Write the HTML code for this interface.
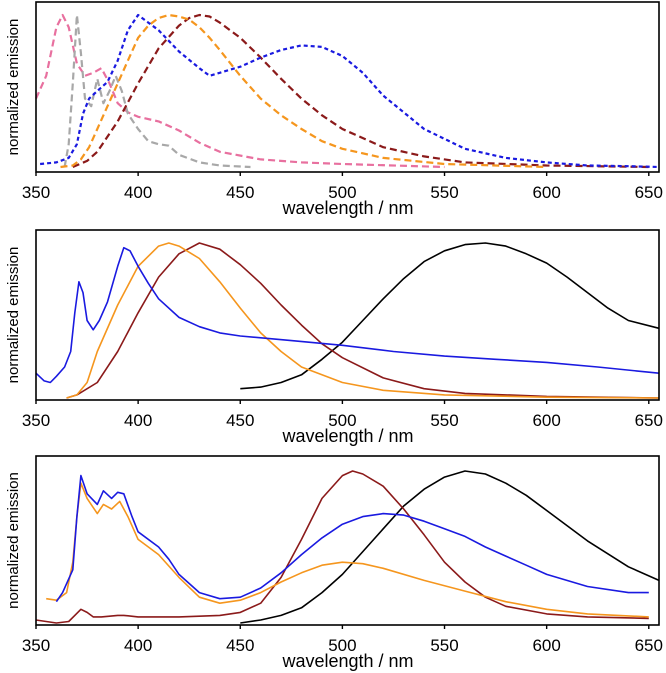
<!DOCTYPE html>
<html><head><meta charset="utf-8"><style>
html,body{margin:0;padding:0;background:#fff;}
svg{display:block;font-family:"Liberation Sans",Arial,sans-serif;}
</style></head><body>
<svg id="chart" width="666" height="673" viewBox="0 0 666 673" xmlns="http://www.w3.org/2000/svg"></svg>
<script>
const xTicks = [350,400,450,500,550,600,650];
// Panel 1 (dashed)
const p1PinkX=[350,355,360,363,366,370,374,378,382,386,390,395,400,410,420,430,440,460,480,500,550];
const p1PinkY=[0.45,0.6,0.92,1.0,0.92,0.68,0.6,0.62,0.65,0.55,0.42,0.36,0.33,0.3,0.24,0.16,0.1,0.05,0.03,0.02,0];
const p1GrayX=[364,366,368,370,372,374,377,380,383,386,389,392,395,400,405,410,415,420,430,440,455];
const p1GrayY=[0,0.15,0.55,1.0,0.75,0.45,0.4,0.58,0.42,0.5,0.6,0.5,0.35,0.25,0.17,0.15,0.14,0.08,0.03,0.01,0];
const p1BlueX=[352,360,366,370,373,376,380,385,390,395,400,405,410,420,430,435,440,450,460,470,480,490,500,510,520,530,540,560,580,600,620,640,655];
const p1BlueY=[0.02,0.03,0.06,0.15,0.35,0.45,0.5,0.56,0.7,0.9,1.0,0.95,0.9,0.76,0.65,0.6,0.62,0.66,0.72,0.77,0.8,0.79,0.73,0.62,0.47,0.36,0.25,0.12,0.06,0.03,0.01,0.005,0];
const p1OrangeX=[362,368,372,376,380,385,390,395,400,405,410,415,420,425,430,435,440,450,460,470,480,490,500,520,550,600];
const p1OrangeY=[0,0.01,0.05,0.13,0.25,0.4,0.55,0.7,0.85,0.93,0.98,1.0,0.99,0.97,0.92,0.85,0.77,0.6,0.45,0.34,0.25,0.17,0.12,0.06,0.02,0];
const p1RedX=[368,375,380,390,400,410,420,425,430,435,440,450,460,470,480,490,500,520,540,560,600,650];
const p1RedY=[0,0.04,0.1,0.3,0.55,0.78,0.93,0.98,1.0,0.99,0.95,0.85,0.72,0.58,0.45,0.34,0.25,0.13,0.07,0.03,0.01,0];
// Panel 2 (solid)
const p2BlueX=[350,354,357,360,364,367,369,371,373,375,378,381,385,390,393,396,400,405,410,420,430,440,450,475,500,525,550,575,600,625,655];
const p2BlueY=[0.16,0.11,0.1,0.14,0.2,0.3,0.55,0.75,0.68,0.5,0.44,0.5,0.62,0.85,0.97,0.95,0.85,0.74,0.64,0.52,0.46,0.42,0.4,0.37,0.34,0.3,0.27,0.25,0.23,0.2,0.16];
const p2OrangeX=[365,370,375,380,390,400,410,415,420,430,440,450,460,470,480,500,520,550,600,655];
const p2OrangeY=[0,0.02,0.1,0.3,0.6,0.85,0.98,1.0,0.98,0.9,0.75,0.58,0.42,0.3,0.2,0.1,0.05,0.02,0.005,0];
const p2RedX=[365,370,380,390,400,410,420,430,440,450,460,470,480,490,500,520,540,560,600,655];
const p2RedY=[0,0.02,0.1,0.3,0.55,0.78,0.93,1.0,0.96,0.86,0.74,0.6,0.47,0.35,0.26,0.13,0.06,0.03,0.01,0];
const p2BlackX=[450,460,470,480,490,500,510,520,530,540,550,560,570,580,590,600,610,620,630,640,655];
const p2BlackY=[0.06,0.07,0.1,0.15,0.25,0.36,0.5,0.64,0.77,0.88,0.95,0.99,1.0,0.98,0.93,0.87,0.78,0.68,0.58,0.5,0.45];
// Panel 3 (solid)
const p3BlueX=[360,363,368,370,372,375,380,383,387,390,393,397,400,410,415,420,430,440,450,460,470,480,490,500,510,520,530,540,550,560,570,580,590,600,620,640,650];
const p3BlueY=[0.14,0.2,0.35,0.7,0.97,0.85,0.78,0.87,0.82,0.86,0.85,0.7,0.6,0.5,0.42,0.32,0.2,0.16,0.17,0.23,0.33,0.45,0.56,0.65,0.7,0.72,0.71,0.67,0.62,0.57,0.5,0.44,0.38,0.32,0.24,0.2,0.2];
const p3OrangeX=[355,360,365,368,370,372,375,380,383,387,391,395,400,410,420,430,440,450,460,470,480,490,500,510,520,540,560,580,600,620,650];
const p3OrangeY=[0.16,0.15,0.2,0.4,0.7,0.92,0.82,0.72,0.78,0.75,0.8,0.7,0.55,0.45,0.3,0.17,0.13,0.15,0.2,0.27,0.33,0.38,0.4,0.39,0.36,0.28,0.21,0.14,0.09,0.06,0.04];
const p3RedX=[350,355,360,366,369,372,375,378,382,390,393,400,420,440,450,460,470,480,490,500,505,510,520,530,540,550,560,570,580,600,620,650];
const p3RedY=[0.02,0.01,0.0,0.01,0.05,0.09,0.07,0.04,0.04,0.05,0.05,0.04,0.04,0.05,0.07,0.13,0.3,0.55,0.82,0.97,1.0,0.98,0.9,0.75,0.58,0.4,0.27,0.17,0.11,0.06,0.04,0.03];
const p3BlackX=[450,460,470,480,490,500,510,520,530,540,550,560,570,580,590,600,620,640,655];
const p3BlackY=[0,0.02,0.05,0.1,0.2,0.32,0.47,0.62,0.77,0.88,0.96,1.0,0.98,0.92,0.84,0.74,0.54,0.37,0.28];

const NS="http://www.w3.org/2000/svg";
const svg=document.getElementById('chart');
const X0=36,X1=659,XMIN=350,XMAX=655;
const xs=v=>X0+(v-XMIN)*(X1-X0)/(XMAX-XMIN);
const panels=[
 {top:2,bot:172,y0:167,y1:15,series:[
  [p1PinkX,p1PinkY,'#e8709f','7,4','pink-dashed-series'],
  [p1GrayX,p1GrayY,'#a8a8a8','7,4','gray-dashed-series'],
  [p1RedX,p1RedY,'#8b1a1a','7,4','darkred-dashed-series'],
  [p1OrangeX,p1OrangeY,'#f5961e','7,4','orange-dashed-series'],
  [p1BlueX,p1BlueY,'#1a1ae0','4,3','blue-dashed-series']]},
 {top:230,bot:400,y0:398,y1:243,series:[
  [p2BlackX,p2BlackY,'#000','','black-series'],
  [p2RedX,p2RedY,'#8b1a1a','','darkred-series'],
  [p2OrangeX,p2OrangeY,'#f5961e','','orange-series'],
  [p2BlueX,p2BlueY,'#1a1ae0','','blue-series']]},
 {top:456,bot:625,y0:623,y1:471,series:[
  [p3BlackX,p3BlackY,'#000','','black-series'],
  [p3RedX,p3RedY,'#8b1a1a','','darkred-series'],
  [p3OrangeX,p3OrangeY,'#f5961e','','orange-series'],
  [p3BlueX,p3BlueY,'#1a1ae0','','blue-series']]}
];
function mk(tag,attrs,parent){const e=document.createElementNS(NS,tag);for(const k in attrs)e.setAttribute(k,attrs[k]);(parent||svg).appendChild(e);return e;}
panels.forEach((p,i)=>{
 const g=mk('g',{});
 
 
 const ys=v=>p.y0+(p.y1-p.y0)*v;
 p.series.forEach(s=>{
  const d=s[0].map((x,j)=>(j?'L':'M')+xs(x).toFixed(1)+','+ys(s[1][j]).toFixed(1)).join('');
  const path=mk('path',{d:d,fill:'none',stroke:s[2],'stroke-width':s[3]?2.2:1.6,'stroke-dasharray':s[3]||'none','stroke-linejoin':'round'},g);
  
  
 });
 const box=mk('rect',{x:X0,y:p.top,width:X1-X0,height:p.bot-p.top,fill:'none',stroke:'#000','stroke-width':1.6},g);
 
 
 xTicks.forEach(t=>{
  const tk=mk('line',{x1:xs(t),x2:xs(t),y1:p.bot,y2:p.bot+4,stroke:'#000','stroke-width':1.4},g);
  
  
  const tl=mk('text',{x:xs(t),y:p.bot+26,'text-anchor':'middle','font-size':17},g);
  tl.textContent=t;
  
  
 });
 const xt=mk('text',{x:348,y:p.bot+42,'text-anchor':'middle','font-size':18},g);
 xt.textContent='wavelength / nm';
 
 
 const cy=(p.top+p.bot)/2;
 const yt=mk('text',{x:18,y:cy,'text-anchor':'middle','font-size':15,transform:'rotate(-90 18 '+cy+')'},g);
 yt.textContent='normalized emission';
 
 
});
</script>
</body></html>
